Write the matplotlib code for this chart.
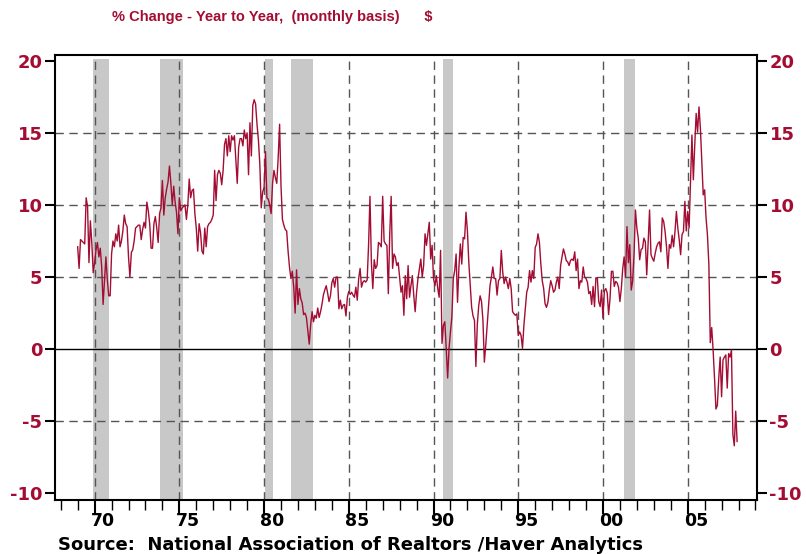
"""Existing home prices, % change year to year (monthly), NBER recessions shaded."""
import numpy as np
import pandas as pd
import matplotlib
matplotlib.use("Agg")
import matplotlib.pyplot as plt
from matplotlib.transforms import blended_transform_factory

# monthly y/y % change, Jan 1969 .. Dec 2007
yoy_1969_1979 = [
    7.1, 5.6, 7.6, 7.5, 7.4, 7.3, 10.5, 9.9, 6.0, 8.9, 7.4, 5.3,
    6.0, 6.9, 7.4, 6.4, 7.0, 5.7, 3.1, 4.8, 6.4, 4.8, 3.7, 3.7,
    6.6, 7.5, 7.1, 8.0, 7.5, 8.6, 7.1, 7.5, 8.2, 9.3, 8.7, 8.5,
    6.4, 5.0, 6.7, 6.9, 7.5, 8.4, 8.5, 8.6, 8.6, 7.6, 8.3, 8.8,
    8.4, 10.2, 9.6, 8.7, 7.0, 7.0, 8.7, 9.2, 8.4, 7.4, 9.4, 9.8,
    11.7, 9.3, 10.5, 11.1, 11.6, 12.7, 11.5, 10.0, 11.3, 10.2, 9.5, 8.0,
    10.5, 9.6, 9.8, 9.9, 10.0, 9.0, 10.0, 11.8, 10.5, 11.0, 11.1, 9.4,
    8.4, 6.8, 8.7, 8.1, 6.8, 6.6, 8.4, 7.1, 8.5, 8.7, 8.8, 9.0,
    9.3, 12.4, 10.3, 12.1, 12.4, 12.2, 11.4, 12.4, 14.2, 14.6, 13.4, 14.8,
    13.7, 14.8, 14.5, 14.8, 13.2, 11.5, 14.0, 14.6, 14.6, 14.1, 15.2, 14.6,
    15.0, 12.1, 15.7, 13.4, 16.9, 17.3, 17.0, 15.6, 14.5, 12.8, 9.8, 10.9,
]
yoy_1980_1989 = [
    11.2, 13.7, 10.5, 10.4, 10.0, 9.4, 11.5, 12.4, 11.9, 11.5, 13.3, 15.6,
    11.3, 9.0, 8.6, 8.3, 8.2, 6.8, 5.7, 4.9, 5.4, 4.3, 2.5, 5.5,
    3.1, 4.2, 3.5, 3.2, 2.4, 2.5, 2.2, 1.3, 0.35, 1.7, 2.6, 1.9,
    2.35, 2.15, 2.85, 2.2, 2.6, 3.1, 3.75, 4.1, 4.4, 3.9, 3.3, 3.7,
    4.6, 4.9, 4.3, 5.0, 5.0, 2.8, 3.4, 2.8, 3.05, 3.1, 2.3, 3.6,
    4.0, 3.8, 3.95, 3.75, 3.6, 4.3, 3.4, 4.9, 5.6, 4.3, 4.65, 4.75,
    4.65, 4.8, 7.2, 10.6, 6.0, 4.2, 6.2, 5.6, 5.8, 7.4, 7.3, 7.1,
    10.6, 7.5, 7.3, 7.2, 3.85, 8.0, 10.6, 5.6, 6.6, 6.4, 5.8, 6.0,
    5.0, 3.95, 4.4, 2.35, 5.1, 3.5, 5.8, 3.6, 4.4, 5.1, 3.75, 2.6,
    3.95, 4.9, 5.6, 6.25, 5.0, 5.8, 8.0, 7.2, 8.0, 8.8, 6.25, 7.2,
]
yoy_1990_1999 = [
    4.9, 4.4, 5.1, 4.2, 3.6, 6.85, 0.4, 1.65, 1.9, 0.05, -2.0, 0.05,
    1.2, 2.25, 4.9, 5.45, 6.6, 3.25, 5.7, 7.3, 5.9, 7.75, 7.65, 9.5,
    8.2, 6.0, 4.5, 2.9, 2.3, 2.0, -1.2, 1.7, 3.0, 3.7, 3.3, 2.0,
    -0.9, 0.3, 1.65, 3.05, 4.4, 5.0, 5.7, 4.9, 4.9, 3.75, 4.75, 4.9,
    6.85, 5.35, 4.55, 5.0, 4.65, 4.2, 4.9, 4.2, 2.6, 2.45, 2.35, 2.45,
    0.95, 1.2, 0.95, 0.05, 1.65, 2.8, 3.95, 4.3, 5.45, 4.65, 5.45, 4.9,
    7.05, 7.3, 8.0, 7.4, 5.9, 4.75, 4.2, 3.15, 2.9, 3.25, 4.1, 4.75,
    4.4, 3.95, 4.1, 4.65, 5.0, 4.2, 5.8, 6.4, 6.95, 6.6, 6.15, 6.05,
    5.8, 6.15, 6.25, 6.15, 6.75, 5.45, 6.25, 4.2, 4.75, 4.65, 5.7, 5.0,
    4.9, 4.65, 3.85, 4.0, 3.1, 4.35, 2.95, 4.95, 4.95, 3.3, 2.95, 4.1,
]
yoy_2000_2007 = [
    2.15, 4.05, 4.2, 3.9, 2.4, 3.5, 5.4, 5.4, 4.35, 4.7, 4.6, 4.3,
    3.3, 4.2, 5.6, 6.4, 5.0, 8.5, 6.0, 7.25, 4.1, 4.7, 6.55, 9.65,
    8.4, 7.7, 6.2, 6.9, 7.0, 7.7, 7.45, 5.15, 7.35, 9.65, 6.55, 6.3,
    6.1, 6.65, 7.1, 7.35, 7.45, 6.75, 9.1, 8.85, 8.15, 7.1, 5.6, 7.25,
    7.0, 7.9, 7.1, 8.15, 9.55, 8.4, 7.6, 6.55, 7.95, 8.15, 10.25, 8.2,
    9.55, 8.4, 11.6, 14.85, 11.75, 14.15, 16.35, 15.05, 16.8, 15.3, 13.0, 10.7,
    11.05, 9.1, 7.9, 5.85, 0.45, 1.5, -0.05, -2.0, -4.15, -3.9, -2.0, -0.55,
    -3.3, -0.75, -0.55, -0.4, -2.7, -0.3, -0.55, -0.05, -5.9, -6.7, -4.3, -6.4,
]

# recession bands (decimal years)
recessions = [(1969.92, 1970.87), (1973.88, 1975.20), (1980.08, 1980.50),
              (1981.58, 1982.87), (1990.58, 1991.17), (2001.22, 2001.87)]

year_ticks = [1970, 1975, 1980, 1985, 1990, 1995, 2000, 2005]
year_labels = ["70", "75", "80", "85", "90", "95", "00", "05"]
y_ticks = [-10, -5, 0, 5, 10, 15, 20]

RED = "#a30d33"
WIDE = ["DejaVu Sans"]
NARROW = ["Liberation Sans"]


def main():
    yoy = np.array(yoy_1969_1979 + yoy_1980_1989 + yoy_1990_1999 + yoy_2000_2007)
    months = pd.date_range("1969-01-01", periods=len(yoy), freq="MS")
    t = months.year + (months.month - 1) / 12.0

    fig = plt.figure(figsize=(8.06, 5.54), dpi=100)
    ax = fig.add_axes([0.0682, 0.0975, 0.871, 0.8032])
    ax.set_xlim(1967.66, 2009.09)
    ax.set_ylim(-10.46, 20.4)

    for a, b in recessions:
        ax.axvspan(a, b, ymin=0, ymax=0.992, color="#c8c8c8", lw=0, zorder=0)

    for yv in [-5, 5, 10, 15]:
        ax.axhline(yv, color="#555555", lw=1.0, ls=(0, (6, 4)), zorder=1)
    for xv in year_ticks:
        ax.axvline(xv, color="#555555", lw=1.0, ls=(0, (6, 4)), zorder=1)
    ax.axhline(0, color="black", lw=1.0, zorder=1)

    ax.plot(t, yoy, color=RED, lw=1.0, zorder=3)

    for s in ax.spines.values():
        s.set_linewidth(1.5)

    ax.set_yticks(y_ticks)
    ax.set_yticklabels([str(v) for v in y_ticks])
    ax.tick_params(axis="y", which="both", direction="out", length=7, width=1.5,
                   left=True, right=True, labelleft=True, labelright=True,
                   labelcolor=RED, labelsize=13, pad=2)
    for lab in ax.get_yticklabels():
        lab.set_fontweight("bold"); lab.set_family(WIDE)

    ax.set_xticks(year_ticks)
    ax.set_xticklabels([])
    ax.set_xticks(np.arange(1968, 2010), minor=True)
    ax.tick_params(axis="x", which="major", direction="out", length=10, width=1.5)
    ax.tick_params(axis="x", which="minor", direction="out", length=7, width=1.0)

    tr = blended_transform_factory(ax.transData, fig.transFigure)
    for yr, lab in zip(year_ticks, year_labels):
        ax.text(yr + 0.5, 1 - 521.5 / 554, lab, transform=tr, ha="center", va="center",
                fontsize=12.5, fontweight="bold", family=WIDE)

    fig.text(58 / 806, 1 - 545 / 554, "Source:  National Association of Realtors /Haver Analytics",
             ha="left", va="center", fontsize=13, fontweight="bold", family=WIDE)
    fig.text(272 / 806, 1 - 17 / 554, "% Change - Year to Year,  (monthly basis)      $",
             ha="center", va="center", fontsize=10.5, fontweight="bold", family=NARROW, color=RED)

    fig.savefig("out.png", dpi=100)


if __name__ == "__main__":
    main()
